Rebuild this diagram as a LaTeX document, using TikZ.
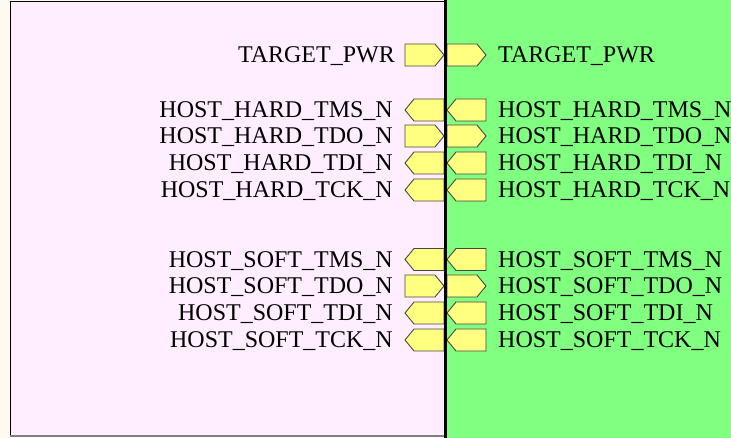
\documentclass[tikz,border=0pt]{standalone}
\usepackage{fontspec}
\setmainfont{Liberation Serif}
\definecolor{cream}{RGB}{255,250,240}
\definecolor{blockpink}{RGB}{255,238,255}
\definecolor{blockgreen}{RGB}{128,255,128}
\definecolor{portfill}{RGB}{255,255,128}
\definecolor{portline}{RGB}{70,70,70}
% port pointing right / left, #1 = left edge, #2 = centre height
\newcommand{\portout}[2]{\draw[port] (#1,#2-11) -- ++(30,0) -- ++(9,11)
  -- ++(-9,11) -- ++(-30,0) -- cycle;}
\newcommand{\portin}[2]{\draw[port] (#1+39,#2-11) -- ++(-30,0) -- ++(-9,11)
  -- ++(9,11) -- ++(30,0) -- cycle;}

\begin{document}
\begin{tikzpicture}[
      x=1pt, y=-1pt,
      port/.style={draw=portline, fill=portfill, line width=0.9pt,
                   line join=miter},
      lbl/.style={anchor=base east, inner sep=0pt,
                  font=\fontsize{24}{24}\selectfont},
      rlbl/.style={lbl, anchor=base west}
    ]
    \useasboundingbox (0,0) rectangle (731,438);
    \fill[cream] (0,0) rectangle (731,438);
    % the two blocks
    \fill[blockpink] (10,1) rectangle (445,436);
    \fill[blockgreen] (446,0) rectangle (731,438);
    \draw[black, line width=1pt] (10.5,436) -- (10.5,1.5) -- (445,1.5);
    \draw[black!50, line width=2pt] (10,436) -- (445,436);
    % target power
    \portout{405}{55} \portout{447}{55}
    \node[lbl]  (pwrLt) at (395,63) {TARGET\_PWR};
    \node[rlbl] (pwrRt) at (498,63) {TARGET\_PWR};
    % hard jtag
    \portin{405}{110}   \portin{447}{110}
    \portout{405}{136}  \portout{447}{136}
    \portin{405}{163}   \portin{447}{163}
    \portin{405}{190}   \portin{447}{190}
    \node[lbl]  (htmsLt) at (393,118) {HOST\_HARD\_TMS\_N};
    \node[rlbl] (htmsRt) at (498,118) {HOST\_HARD\_TMS\_N};
    \node[lbl]  (htdoLt) at (393,144) {HOST\_HARD\_TDO\_N};
    \node[rlbl] (htdoRt) at (498,144) {HOST\_HARD\_TDO\_N};
    \node[lbl]  (htdiLt) at (393,171) {HOST\_HARD\_TDI\_N};
    \node[rlbl] (htdiRt) at (498,171) {HOST\_HARD\_TDI\_N};
    \node[lbl]  (htckLt) at (393,198) {HOST\_HARD\_TCK\_N};
    \node[rlbl] (htckRt) at (498,198) {HOST\_HARD\_TCK\_N};
    % soft jtag
    \portin{405}{259.5} \portin{447}{259.5}
    \portout{405}{286}  \portout{447}{286}
    \portin{405}{313}   \portin{447}{313}
    \portin{405}{340}   \portin{447}{340}
    \node[lbl]  (stmsLt) at (393,267.5) {HOST\_SOFT\_TMS\_N};
    \node[rlbl] (stmsRt) at (498,267.5) {HOST\_SOFT\_TMS\_N};
    \node[lbl]  (stdoLt) at (393,294) {HOST\_SOFT\_TDO\_N};
    \node[rlbl] (stdoRt) at (498,294) {HOST\_SOFT\_TDO\_N};
    \node[lbl]  (stdiLt) at (393,321) {HOST\_SOFT\_TDI\_N};
    \node[rlbl] (stdiRt) at (498,321) {HOST\_SOFT\_TDI\_N};
    \node[lbl]  (stckLt) at (393,348) {HOST\_SOFT\_TCK\_N};
    \node[rlbl] (stckRt) at (498,348) {HOST\_SOFT\_TCK\_N};
    % boundary between the blocks
    \draw[black, line width=3pt] (445.5,0) -- (445.5,438);
  \end{tikzpicture}
\end{document}
